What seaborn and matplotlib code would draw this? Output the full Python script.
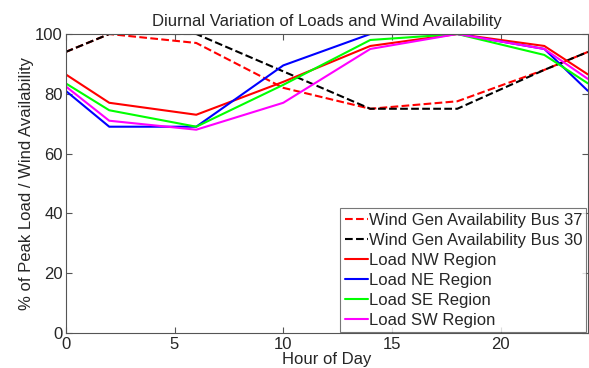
import matplotlib
matplotlib.use("Agg")
import matplotlib.pyplot as plt
import seaborn as sns
import pandas as pd

hours = [0, 2, 6, 10, 14, 18, 22, 24]
wind_bus37 = [94, 100, 97, 82, 75, 77.5, 88, 94]
wind_bus30 = [94, 100, 100, 87.5, 75, 75, 88, 94]
load_nw = [86.5, 77, 73, 84, 96, 100, 96, 86.5]
load_ne = [81, 69, 69, 89.5, 100, 100, 95, 81]
load_se = [83.5, 74.5, 69, 83, 98, 100, 93, 83.5]
load_sw = [82.5, 71, 68, 77, 95, 100, 95, 85]

series = [
    ("Wind Gen Availability Bus 37", wind_bus37, "#ff0000", "--"),
    ("Wind Gen Availability Bus 30", wind_bus30, "#000000", "--"),
    ("Load NW Region", load_nw, "#ff0000", "-"),
    ("Load NE Region", load_ne, "#0000ff", "-"),
    ("Load SE Region", load_se, "#00ff00", "-"),
    ("Load SW Region", load_sw, "#ff00ff", "-"),
]

sns.set_style("ticks")
plt.rcParams['font.family'] = ['Liberation Sans', 'DejaVu Sans']
plt.rcParams['xtick.direction'] = 'in'
plt.rcParams['ytick.direction'] = 'in'

fig = plt.figure(figsize=(5.89, 3.68), dpi=100)
ax = fig.add_axes([0.1116, 0.095, 0.8864, 0.8126])

for name, vals, col, ls in series:
    df = pd.DataFrame({"hour": hours, "val": vals})
    sns.lineplot(data=df, x="hour", y="val", color=col, linestyle=ls,
                 linewidth=1.5, label=name, ax=ax)

ax.set_xlim(0, 24)
ax.set_ylim(0, 100)
ax.set_xticks([0, 5, 10, 15, 20])
ax.set_yticks([0, 20, 40, 60, 80, 100])
ax.tick_params(labelsize=12, length=4, color='#555555', top=True, right=True)
ax.tick_params(axis='x', pad=3)
ax.tick_params(axis='y', pad=2)
for s in ax.spines.values():
    s.set_color('#555555')
    s.set_linewidth(0.8)
    s.set_visible(True)

ax.set_xlabel("Hour of Day", fontsize=12, labelpad=0)
ax.set_ylabel("% of Peak Load / Wind Availability", fontsize=12, labelpad=1)
ax.set_title("Diurnal Variation of Loads and Wind Availability", fontsize=12, pad=6)

leg = ax.legend(loc="lower right", fontsize=12, frameon=True, fancybox=False,
                handlelength=1.4, handletextpad=0.05, borderpad=0.25,
                labelspacing=0.3, borderaxespad=0.08)
leg.get_frame().set_edgecolor('#555555')
leg.get_frame().set_linewidth(0.8)

fig.savefig("out.png", dpi=100)
